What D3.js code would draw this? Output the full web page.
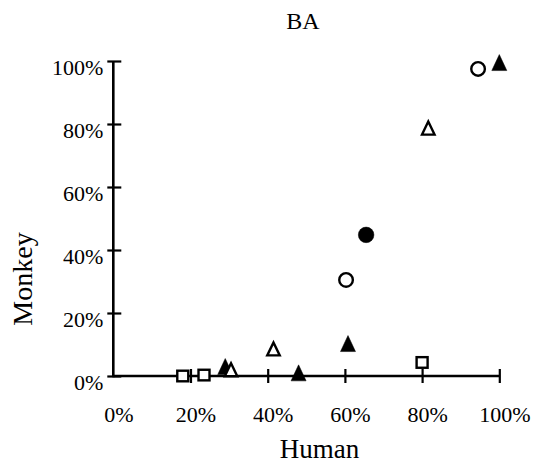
<!DOCTYPE html>
<html>
<head>
<meta charset="utf-8">
<script src="https://cdn.jsdelivr.net/npm/d3@7"></script>
<style>
  html, body { margin: 0; padding: 0; background: #fff; }
  svg { display: block; }
  svg text { font-family: 'Liberation Serif', 'Times New Roman', serif; fill: #000; }
</style>
</head>
<body>
<svg id="chart" width="539" height="466"></svg>
<script>
// ---- data (fractions: Human on x, Monkey on y) ----
const humanValues  = [0.180, 0.235, 0.290, 0.305, 0.415, 0.480, 0.608, 0.603, 0.655, 0.800, 0.816, 0.945, 1.000];
const monkeyValues = [0.000, 0.003, 0.030, 0.020, 0.086, 0.010, 0.103, 0.305, 0.448, 0.043, 0.787, 0.975, 0.995];
const markerShapes = ["square","square","triangle","triangle","triangle","triangle","triangle","circle","circle","square","triangle","circle","triangle"];
const markerFilled = [false, false, true, false, false, true, true, false, true, false, false, false, true];
const xTickValues = [0, 0.2, 0.4, 0.6, 0.8, 1.0];
const yTickValues = [0, 0.2, 0.4, 0.6, 0.8, 1.0];
const xTickLabels = ["0%", "20%", "40%", "60%", "80%", "100%"];
const yTickLabels = ["0%", "20%", "40%", "60%", "80%", "100%"];
const chartTitle = "BA";
const xAxisTitle = "Human";
const yAxisTitle = "Monkey";

const FONT = "'Liberation Serif', 'Times New Roman', serif";
const svg = d3.select("#chart");
const x = d3.scaleLinear().domain([0, 1]).range([113.3, 499.3]);
const y = d3.scaleLinear().domain([0, 1]).range([376, 61]);

// x axis
const gx = svg.append("g").attr("transform", `translate(0,${y(0)})`)
  .call(d3.axisBottom(x).tickValues(xTickValues).tickSize(7).tickSizeOuter(0)
        .tickFormat((d, i) => xTickLabels[i]));
gx.attr("font-family", FONT).attr("font-size", 22);
gx.select(".domain").attr("stroke", "#000").attr("stroke-width", 2.6)
  .attr("d", `M${x(0)},0H${x(1)}`);
gx.selectAll(".tick line").attr("stroke", "#000").attr("stroke-width", 2.2).attr("y1", -7).attr("y2", 7);
gx.selectAll(".tick").filter(d => d === 0).select("line").remove();
gx.selectAll(".tick text").attr("y", 46).attr("dy", null).attr("dx", 5)
  .attr("font-family", FONT).attr("font-size", 22)
  .style("font-size", "22px").style("font-family", FONT).attr("fill", "#000");

// y axis
const gy = svg.append("g").attr("transform", `translate(${x(0)},0)`)
  .call(d3.axisLeft(y).tickValues(yTickValues).tickSize(7).tickSizeOuter(0)
        .tickFormat((d, i) => yTickLabels[i]));
gy.attr("font-family", FONT).attr("font-size", 22);
gy.select(".domain").attr("stroke", "#000").attr("stroke-width", 2.6)
  .attr("d", `M0,${y(0) + 1.3}V${y(1)}`);
gy.selectAll(".tick line").attr("stroke", "#000").attr("stroke-width", 2.2).attr("x1", -6).attr("x2", 8);
gy.selectAll(".tick text").attr("x", -10).attr("dy", null).attr("y", 13)
  .attr("font-family", FONT).attr("font-size", 22)
  .style("font-size", "22px").style("font-family", FONT).attr("fill", "#000");

// markers
const pts = humanValues.map((h, i) => ({ h, m: monkeyValues[i], shape: markerShapes[i], filled: markerFilled[i] }));
const triPath = (w, hgt) => `M0,${-hgt/2}L${w/2},${hgt/2}L${-w/2},${hgt/2}Z`;
const mg = svg.append("g");
pts.forEach(p => {
  const cx = x(p.h), cy = y(p.m);
  const fill = p.filled ? "#000" : "#fff";
  const sw = p.filled ? 0.5 : 2.4;
  if (p.shape === "circle") {
    mg.append("circle").attr("cx", cx).attr("cy", cy).attr("r", p.filled ? 7.8 : 6.8)
      .attr("fill", fill).attr("stroke", "#000").attr("stroke-width", sw);
  } else if (p.shape === "square") {
    mg.append("rect").attr("x", cx - 5.5).attr("y", cy - 5.3).attr("width", 11).attr("height", 10.6)
      .attr("fill", fill).attr("stroke", "#000").attr("stroke-width", sw);
  } else {
    const w = p.filled ? 15 : 12.5, hh = p.filled ? 16 : 13;
    mg.append("path").attr("transform", `translate(${cx},${cy})`).attr("d", triPath(w, hh))
      .attr("fill", fill).attr("stroke", "#000").attr("stroke-width", sw).attr("stroke-linejoin", "miter");
  }
});

// titles
svg.append("text").attr("x", 303).attr("y", 29).attr("text-anchor", "middle")
  .attr("font-family", FONT).attr("font-size", 24).text(chartTitle);
svg.append("text").attr("x", 319.5).attr("y", 457.7).attr("text-anchor", "middle")
  .attr("font-family", FONT).attr("font-size", 27).text(xAxisTitle);
svg.append("text").attr("transform", "translate(31.7,279) rotate(-90)").attr("text-anchor", "middle")
  .attr("font-family", FONT).attr("font-size", 28).text(yAxisTitle);
</script>
</body>
</html>
